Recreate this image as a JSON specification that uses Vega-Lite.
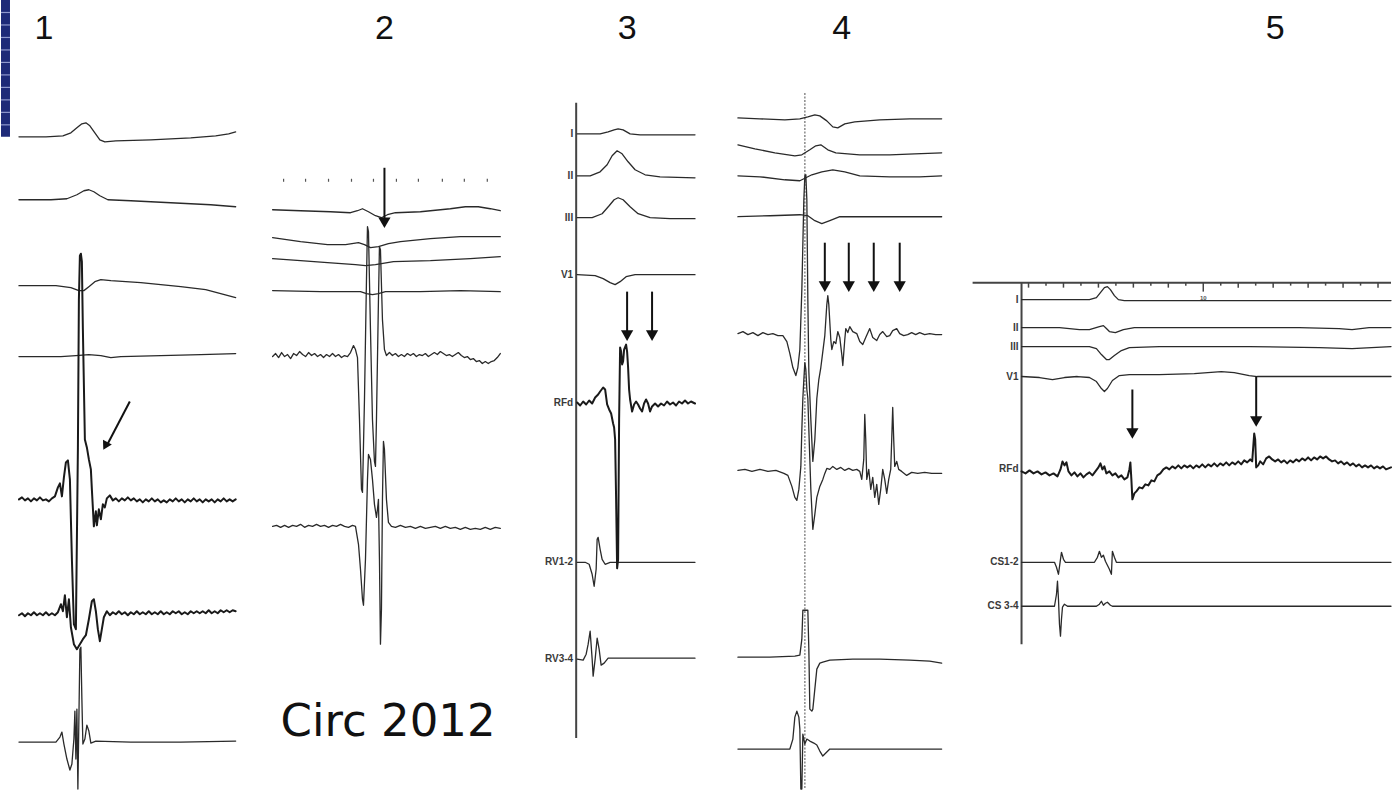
{
"$schema":"https://vega.github.io/schema/vega-lite/v6.json",
"width":1392,"height":790,
"autosize":{"type":"fit","contains":"padding"},
"padding":0,
"background":"white",
"config":{"view":{"stroke":null}},
"datasets":{
"traces":[
{"s":"1a","x":18,"y":137},{"s":"1a","x":45,"y":137},{"s":"1a","x":62,"y":136},{"s":"1a","x":70,"y":133},{"s":"1a","x":76,"y":128},{"s":"1a","x":81,"y":124},{"s":"1a","x":85,"y":123},{"s":"1a","x":89,"y":126},{"s":"1a","x":94,"y":133},{"s":"1a","x":99,"y":140},{"s":"1a","x":104,"y":142},{"s":"1a","x":115,"y":141},{"s":"1a","x":150,"y":140},{"s":"1a","x":190,"y":138},{"s":"1a","x":215,"y":136},{"s":"1a","x":228,"y":134},{"s":"1a","x":235,"y":132},
{"s":"1b","x":18,"y":200},{"s":"1b","x":50,"y":200},{"s":"1b","x":66,"y":199},{"s":"1b","x":76,"y":195},{"s":"1b","x":83,"y":191},{"s":"1b","x":88,"y":190},{"s":"1b","x":93,"y":192},{"s":"1b","x":99,"y":196},{"s":"1b","x":107,"y":200},{"s":"1b","x":130,"y":201},{"s":"1b","x":170,"y":203},{"s":"1b","x":210,"y":205},{"s":"1b","x":235,"y":207},
{"s":"1c","x":18,"y":286},{"s":"1c","x":55,"y":286},{"s":"1c","x":70,"y":288},{"s":"1c","x":78,"y":291},{"s":"1c","x":83,"y":291},{"s":"1c","x":88,"y":287},{"s":"1c","x":94,"y":282},{"s":"1c","x":100,"y":280},{"s":"1c","x":110,"y":281},{"s":"1c","x":140,"y":283},{"s":"1c","x":180,"y":287},{"s":"1c","x":205,"y":290},{"s":"1c","x":220,"y":294},{"s":"1c","x":235,"y":298},
{"s":"1d","x":18,"y":357},{"s":"1d","x":60,"y":357},{"s":"1d","x":75,"y":356},{"s":"1d","x":88,"y":355},{"s":"1d","x":100,"y":356},{"s":"1d","x":110,"y":358},{"s":"1d","x":120,"y":357},{"s":"1d","x":160,"y":356},{"s":"1d","x":200,"y":355},{"s":"1d","x":235,"y":354},
{"s":"1e","x":18,"y":500},{"s":"1e","x":21,"y":498},{"s":"1e","x":24,"y":501},{"s":"1e","x":27,"y":499},{"s":"1e","x":30,"y":502},{"s":"1e","x":33,"y":499},{"s":"1e","x":36,"y":501},{"s":"1e","x":39,"y":498},{"s":"1e","x":42,"y":501},{"s":"1e","x":45,"y":500},{"s":"1e","x":48,"y":502},{"s":"1e","x":51,"y":499},{"s":"1e","x":54,"y":497},{"s":"1e","x":57,"y":488},{"s":"1e","x":59,"y":484},{"s":"1e","x":61,"y":497},{"s":"1e","x":63,"y":478},{"s":"1e","x":65,"y":463},{"s":"1e","x":67,"y":461},{"s":"1e","x":69,"y":480},{"s":"1e","x":71,"y":560},{"s":"1e","x":73,"y":625},{"s":"1e","x":75,"y":630},{"s":"1e","x":77,"y":450},{"s":"1e","x":78,"y":300},{"s":"1e","x":79,"y":256},{"s":"1e","x":80,"y":254},{"s":"1e","x":81,"y":262},{"s":"1e","x":82,"y":330},{"s":"1e","x":84,"y":440},{"s":"1e","x":86,"y":448},{"s":"1e","x":88,"y":460},{"s":"1e","x":90,"y":470},{"s":"1e","x":91,"y":490},{"s":"1e","x":93,"y":527},{"s":"1e","x":95,"y":512},{"s":"1e","x":96,"y":526},{"s":"1e","x":98,"y":510},{"s":"1e","x":100,"y":520},{"s":"1e","x":102,"y":505},{"s":"1e","x":104,"y":508},{"s":"1e","x":106,"y":499},{"s":"1e","x":109,"y":496},{"s":"1e","x":112,"y":501},{"s":"1e","x":115,"y":499},{"s":"1e","x":118,"y":502},{"s":"1e","x":121,"y":499},{"s":"1e","x":124,"y":501},{"s":"1e","x":127,"y":498},{"s":"1e","x":130,"y":501},{"s":"1e","x":133,"y":499},{"s":"1e","x":136,"y":502},{"s":"1e","x":139,"y":500},{"s":"1e","x":142,"y":503},{"s":"1e","x":145,"y":500},{"s":"1e","x":148,"y":502},{"s":"1e","x":151,"y":499},{"s":"1e","x":154,"y":502},{"s":"1e","x":157,"y":500},{"s":"1e","x":160,"y":503},{"s":"1e","x":163,"y":501},{"s":"1e","x":166,"y":503},{"s":"1e","x":169,"y":500},{"s":"1e","x":172,"y":502},{"s":"1e","x":175,"y":499},{"s":"1e","x":178,"y":502},{"s":"1e","x":181,"y":500},{"s":"1e","x":184,"y":503},{"s":"1e","x":187,"y":500},{"s":"1e","x":190,"y":502},{"s":"1e","x":193,"y":499},{"s":"1e","x":196,"y":502},{"s":"1e","x":199,"y":500},{"s":"1e","x":202,"y":503},{"s":"1e","x":205,"y":500},{"s":"1e","x":208,"y":502},{"s":"1e","x":211,"y":500},{"s":"1e","x":214,"y":503},{"s":"1e","x":217,"y":500},{"s":"1e","x":220,"y":502},{"s":"1e","x":223,"y":499},{"s":"1e","x":226,"y":502},{"s":"1e","x":229,"y":500},{"s":"1e","x":232,"y":502},{"s":"1e","x":235,"y":500},
{"s":"1f","x":18,"y":616},{"s":"1f","x":21,"y":614},{"s":"1f","x":24,"y":617},{"s":"1f","x":27,"y":614},{"s":"1f","x":30,"y":616},{"s":"1f","x":33,"y":613},{"s":"1f","x":36,"y":616},{"s":"1f","x":39,"y":614},{"s":"1f","x":42,"y":616},{"s":"1f","x":45,"y":613},{"s":"1f","x":48,"y":616},{"s":"1f","x":51,"y":614},{"s":"1f","x":54,"y":616},{"s":"1f","x":57,"y":613},{"s":"1f","x":60,"y":605},{"s":"1f","x":62,"y":612},{"s":"1f","x":64,"y":596},{"s":"1f","x":66,"y":618},{"s":"1f","x":68,"y":600},{"s":"1f","x":70,"y":628},{"s":"1f","x":73,"y":645},{"s":"1f","x":76,"y":650},{"s":"1f","x":79,"y":645},{"s":"1f","x":82,"y":640},{"s":"1f","x":85,"y":636},{"s":"1f","x":88,"y":620},{"s":"1f","x":91,"y":602},{"s":"1f","x":93,"y":600},{"s":"1f","x":95,"y":612},{"s":"1f","x":97,"y":630},{"s":"1f","x":99,"y":642},{"s":"1f","x":101,"y":630},{"s":"1f","x":103,"y":618},{"s":"1f","x":106,"y":612},{"s":"1f","x":109,"y":616},{"s":"1f","x":112,"y":613},{"s":"1f","x":115,"y":615},{"s":"1f","x":118,"y":612},{"s":"1f","x":121,"y":615},{"s":"1f","x":124,"y":613},{"s":"1f","x":127,"y":616},{"s":"1f","x":130,"y":613},{"s":"1f","x":133,"y":615},{"s":"1f","x":136,"y":612},{"s":"1f","x":139,"y":615},{"s":"1f","x":142,"y":613},{"s":"1f","x":145,"y":615},{"s":"1f","x":148,"y":612},{"s":"1f","x":151,"y":615},{"s":"1f","x":154,"y":613},{"s":"1f","x":157,"y":615},{"s":"1f","x":160,"y":612},{"s":"1f","x":163,"y":615},{"s":"1f","x":166,"y":613},{"s":"1f","x":169,"y":615},{"s":"1f","x":172,"y":612},{"s":"1f","x":175,"y":614},{"s":"1f","x":178,"y":612},{"s":"1f","x":181,"y":615},{"s":"1f","x":184,"y":613},{"s":"1f","x":187,"y":615},{"s":"1f","x":190,"y":612},{"s":"1f","x":193,"y":614},{"s":"1f","x":196,"y":612},{"s":"1f","x":199,"y":614},{"s":"1f","x":202,"y":612},{"s":"1f","x":205,"y":614},{"s":"1f","x":208,"y":611},{"s":"1f","x":211,"y":614},{"s":"1f","x":214,"y":612},{"s":"1f","x":217,"y":614},{"s":"1f","x":220,"y":611},{"s":"1f","x":223,"y":613},{"s":"1f","x":226,"y":611},{"s":"1f","x":229,"y":613},{"s":"1f","x":232,"y":611},{"s":"1f","x":235,"y":612},
{"s":"1g","x":18,"y":743},{"s":"1g","x":55,"y":743},{"s":"1g","x":59,"y":738},{"s":"1g","x":61,"y":733},{"s":"1g","x":63,"y":745},{"s":"1g","x":66,"y":760},{"s":"1g","x":69,"y":771},{"s":"1g","x":71,"y":765},{"s":"1g","x":73,"y":740},{"s":"1g","x":74,"y":712},{"s":"1g","x":75,"y":760},{"s":"1g","x":76,"y":710},{"s":"1g","x":77,"y":790},{"s":"1g","x":78,"y":720},{"s":"1g","x":79,"y":650},{"s":"1g","x":80,"y":648},{"s":"1g","x":81,"y":700},{"s":"1g","x":82,"y":745},{"s":"1g","x":84,"y":740},{"s":"1g","x":86,"y":726},{"s":"1g","x":88,"y":732},{"s":"1g","x":90,"y":744},{"s":"1g","x":95,"y":742},{"s":"1g","x":130,"y":743},{"s":"1g","x":180,"y":743},{"s":"1g","x":235,"y":742},
{"s":"2a","x":272,"y":210},{"s":"2a","x":300,"y":211},{"s":"2a","x":330,"y":212},{"s":"2a","x":350,"y":213},{"s":"2a","x":357,"y":211},{"s":"2a","x":362,"y":209},{"s":"2a","x":368,"y":212},{"s":"2a","x":375,"y":216},{"s":"2a","x":381,"y":218},{"s":"2a","x":387,"y":215},{"s":"2a","x":395,"y":213},{"s":"2a","x":420,"y":212},{"s":"2a","x":450,"y":209},{"s":"2a","x":465,"y":207},{"s":"2a","x":478,"y":207},{"s":"2a","x":490,"y":209},{"s":"2a","x":500,"y":211},
{"s":"2b","x":272,"y":238},{"s":"2b","x":300,"y":242},{"s":"2b","x":327,"y":245},{"s":"2b","x":345,"y":245},{"s":"2b","x":358,"y":243},{"s":"2b","x":364,"y":245},{"s":"2b","x":370,"y":248},{"s":"2b","x":378,"y":247},{"s":"2b","x":388,"y":244},{"s":"2b","x":400,"y":242},{"s":"2b","x":430,"y":239},{"s":"2b","x":460,"y":237},{"s":"2b","x":500,"y":237},
{"s":"2c","x":272,"y":259},{"s":"2c","x":300,"y":261},{"s":"2c","x":327,"y":263},{"s":"2c","x":355,"y":265},{"s":"2c","x":365,"y":266},{"s":"2c","x":375,"y":265},{"s":"2c","x":393,"y":262},{"s":"2c","x":430,"y":261},{"s":"2c","x":470,"y":259},{"s":"2c","x":500,"y":257},
{"s":"2d","x":272,"y":291},{"s":"2d","x":320,"y":292},{"s":"2d","x":360,"y":292},{"s":"2d","x":366,"y":294},{"s":"2d","x":372,"y":295},{"s":"2d","x":378,"y":294},{"s":"2d","x":385,"y":292},{"s":"2d","x":420,"y":292},{"s":"2d","x":460,"y":291},{"s":"2d","x":500,"y":292},
{"s":"2e","x":272,"y":357},{"s":"2e","x":275,"y":354},{"s":"2e","x":278,"y":358},{"s":"2e","x":281,"y":353},{"s":"2e","x":284,"y":357},{"s":"2e","x":287,"y":355},{"s":"2e","x":290,"y":359},{"s":"2e","x":293,"y":354},{"s":"2e","x":296,"y":356},{"s":"2e","x":299,"y":352},{"s":"2e","x":302,"y":355},{"s":"2e","x":305,"y":357},{"s":"2e","x":308,"y":353},{"s":"2e","x":311,"y":356},{"s":"2e","x":314,"y":354},{"s":"2e","x":317,"y":357},{"s":"2e","x":320,"y":355},{"s":"2e","x":323,"y":358},{"s":"2e","x":326,"y":355},{"s":"2e","x":329,"y":357},{"s":"2e","x":332,"y":354},{"s":"2e","x":335,"y":357},{"s":"2e","x":338,"y":355},{"s":"2e","x":341,"y":358},{"s":"2e","x":344,"y":356},{"s":"2e","x":347,"y":357},{"s":"2e","x":350,"y":353},{"s":"2e","x":353,"y":346},{"s":"2e","x":355,"y":350},{"s":"2e","x":357,"y":358},{"s":"2e","x":359,"y":420},{"s":"2e","x":361,"y":490},{"s":"2e","x":362,"y":493},{"s":"2e","x":364,"y":400},{"s":"2e","x":366,"y":280},{"s":"2e","x":367,"y":227},{"s":"2e","x":368,"y":232},{"s":"2e","x":370,"y":330},{"s":"2e","x":372,"y":420},{"s":"2e","x":374,"y":462},{"s":"2e","x":375,"y":467},{"s":"2e","x":376,"y":420},{"s":"2e","x":378,"y":300},{"s":"2e","x":379,"y":247},{"s":"2e","x":380,"y":250},{"s":"2e","x":382,"y":320},{"s":"2e","x":384,"y":350},{"s":"2e","x":386,"y":356},{"s":"2e","x":389,"y":353},{"s":"2e","x":392,"y":356},{"s":"2e","x":395,"y":354},{"s":"2e","x":398,"y":357},{"s":"2e","x":401,"y":355},{"s":"2e","x":404,"y":357},{"s":"2e","x":407,"y":354},{"s":"2e","x":410,"y":356},{"s":"2e","x":413,"y":354},{"s":"2e","x":416,"y":357},{"s":"2e","x":419,"y":355},{"s":"2e","x":422,"y":356},{"s":"2e","x":425,"y":354},{"s":"2e","x":428,"y":357},{"s":"2e","x":431,"y":355},{"s":"2e","x":434,"y":353},{"s":"2e","x":437,"y":355},{"s":"2e","x":440,"y":352},{"s":"2e","x":443,"y":354},{"s":"2e","x":446,"y":356},{"s":"2e","x":449,"y":355},{"s":"2e","x":452,"y":357},{"s":"2e","x":455,"y":355},{"s":"2e","x":458,"y":353},{"s":"2e","x":461,"y":356},{"s":"2e","x":464,"y":358},{"s":"2e","x":467,"y":357},{"s":"2e","x":470,"y":360},{"s":"2e","x":473,"y":359},{"s":"2e","x":476,"y":362},{"s":"2e","x":479,"y":361},{"s":"2e","x":482,"y":364},{"s":"2e","x":485,"y":362},{"s":"2e","x":488,"y":364},{"s":"2e","x":491,"y":362},{"s":"2e","x":494,"y":361},{"s":"2e","x":497,"y":358},{"s":"2e","x":500,"y":354},
{"s":"2f","x":272,"y":527},{"s":"2f","x":276,"y":526},{"s":"2f","x":280,"y":528},{"s":"2f","x":284,"y":526},{"s":"2f","x":288,"y":528},{"s":"2f","x":292,"y":526},{"s":"2f","x":296,"y":527},{"s":"2f","x":300,"y":525},{"s":"2f","x":304,"y":528},{"s":"2f","x":308,"y":526},{"s":"2f","x":312,"y":527},{"s":"2f","x":316,"y":525},{"s":"2f","x":320,"y":527},{"s":"2f","x":324,"y":526},{"s":"2f","x":328,"y":528},{"s":"2f","x":332,"y":526},{"s":"2f","x":336,"y":527},{"s":"2f","x":340,"y":525},{"s":"2f","x":344,"y":527},{"s":"2f","x":348,"y":528},{"s":"2f","x":352,"y":526},{"s":"2f","x":355,"y":527},{"s":"2f","x":358,"y":545},{"s":"2f","x":360,"y":570},{"s":"2f","x":362,"y":600},{"s":"2f","x":363,"y":606},{"s":"2f","x":365,"y":560},{"s":"2f","x":367,"y":480},{"s":"2f","x":368,"y":455},{"s":"2f","x":370,"y":460},{"s":"2f","x":372,"y":480},{"s":"2f","x":374,"y":505},{"s":"2f","x":376,"y":518},{"s":"2f","x":377,"y":510},{"s":"2f","x":378,"y":500},{"s":"2f","x":379,"y":560},{"s":"2f","x":380,"y":645},{"s":"2f","x":381,"y":610},{"s":"2f","x":382,"y":500},{"s":"2f","x":383,"y":442},{"s":"2f","x":384,"y":450},{"s":"2f","x":386,"y":500},{"s":"2f","x":388,"y":523},{"s":"2f","x":391,"y":527},{"s":"2f","x":395,"y":528},{"s":"2f","x":400,"y":526},{"s":"2f","x":405,"y":528},{"s":"2f","x":410,"y":527},{"s":"2f","x":415,"y":529},{"s":"2f","x":420,"y":527},{"s":"2f","x":425,"y":529},{"s":"2f","x":430,"y":528},{"s":"2f","x":435,"y":527},{"s":"2f","x":440,"y":529},{"s":"2f","x":445,"y":527},{"s":"2f","x":450,"y":529},{"s":"2f","x":455,"y":528},{"s":"2f","x":460,"y":530},{"s":"2f","x":465,"y":528},{"s":"2f","x":470,"y":530},{"s":"2f","x":475,"y":529},{"s":"2f","x":480,"y":530},{"s":"2f","x":485,"y":528},{"s":"2f","x":490,"y":530},{"s":"2f","x":495,"y":528},{"s":"2f","x":500,"y":529},
{"s":"3I","x":577,"y":134},{"s":"3I","x":600,"y":134},{"s":"3I","x":608,"y":132},{"s":"3I","x":614,"y":130},{"s":"3I","x":618,"y":129},{"s":"3I","x":623,"y":130},{"s":"3I","x":630,"y":134},{"s":"3I","x":640,"y":135},{"s":"3I","x":660,"y":135},{"s":"3I","x":695,"y":135},
{"s":"3II","x":577,"y":176},{"s":"3II","x":590,"y":176},{"s":"3II","x":600,"y":172},{"s":"3II","x":607,"y":165},{"s":"3II","x":612,"y":156},{"s":"3II","x":617,"y":151},{"s":"3II","x":622,"y":154},{"s":"3II","x":628,"y":162},{"s":"3II","x":635,"y":170},{"s":"3II","x":645,"y":175},{"s":"3II","x":660,"y":177},{"s":"3II","x":695,"y":178},
{"s":"3III","x":577,"y":218},{"s":"3III","x":592,"y":218},{"s":"3III","x":602,"y":214},{"s":"3III","x":609,"y":206},{"s":"3III","x":614,"y":200},{"s":"3III","x":618,"y":198},{"s":"3III","x":623,"y":200},{"s":"3III","x":630,"y":207},{"s":"3III","x":638,"y":214},{"s":"3III","x":650,"y":218},{"s":"3III","x":670,"y":219},{"s":"3III","x":695,"y":219},
{"s":"3V1","x":577,"y":275},{"s":"3V1","x":595,"y":276},{"s":"3V1","x":603,"y":279},{"s":"3V1","x":610,"y":283},{"s":"3V1","x":615,"y":285},{"s":"3V1","x":620,"y":282},{"s":"3V1","x":626,"y":277},{"s":"3V1","x":635,"y":275},{"s":"3V1","x":695,"y":275},
{"s":"3R","x":577,"y":403},{"s":"3R","x":580,"y":406},{"s":"3R","x":583,"y":402},{"s":"3R","x":586,"y":405},{"s":"3R","x":589,"y":401},{"s":"3R","x":592,"y":404},{"s":"3R","x":595,"y":398},{"s":"3R","x":598,"y":395},{"s":"3R","x":600,"y":392},{"s":"3R","x":603,"y":388},{"s":"3R","x":605,"y":390},{"s":"3R","x":607,"y":405},{"s":"3R","x":609,"y":410},{"s":"3R","x":611,"y":414},{"s":"3R","x":613,"y":424},{"s":"3R","x":614,"y":428},{"s":"3R","x":615,"y":440},{"s":"3R","x":616,"y":500},{"s":"3R","x":617,"y":569},{"s":"3R","x":618,"y":560},{"s":"3R","x":619,"y":420},{"s":"3R","x":620,"y":348},{"s":"3R","x":621,"y":352},{"s":"3R","x":622,"y":365},{"s":"3R","x":623,"y":362},{"s":"3R","x":624,"y":350},{"s":"3R","x":626,"y":345},{"s":"3R","x":627,"y":352},{"s":"3R","x":628,"y":368},{"s":"3R","x":629,"y":390},{"s":"3R","x":630,"y":400},{"s":"3R","x":632,"y":412},{"s":"3R","x":634,"y":405},{"s":"3R","x":636,"y":402},{"s":"3R","x":638,"y":405},{"s":"3R","x":640,"y":409},{"s":"3R","x":642,"y":412},{"s":"3R","x":644,"y":404},{"s":"3R","x":646,"y":400},{"s":"3R","x":648,"y":404},{"s":"3R","x":650,"y":412},{"s":"3R","x":652,"y":407},{"s":"3R","x":655,"y":404},{"s":"3R","x":658,"y":407},{"s":"3R","x":661,"y":404},{"s":"3R","x":664,"y":406},{"s":"3R","x":667,"y":402},{"s":"3R","x":670,"y":405},{"s":"3R","x":673,"y":403},{"s":"3R","x":676,"y":406},{"s":"3R","x":679,"y":402},{"s":"3R","x":682,"y":404},{"s":"3R","x":685,"y":401},{"s":"3R","x":688,"y":404},{"s":"3R","x":691,"y":402},{"s":"3R","x":695,"y":404},
{"s":"3RV12","x":577,"y":563},{"s":"3RV12","x":585,"y":563},{"s":"3RV12","x":589,"y":565},{"s":"3RV12","x":592,"y":575},{"s":"3RV12","x":594,"y":587},{"s":"3RV12","x":596,"y":570},{"s":"3RV12","x":597,"y":540},{"s":"3RV12","x":598,"y":538},{"s":"3RV12","x":600,"y":550},{"s":"3RV12","x":602,"y":560},{"s":"3RV12","x":605,"y":565},{"s":"3RV12","x":610,"y":563},{"s":"3RV12","x":695,"y":563},
{"s":"3RV34","x":577,"y":660},{"s":"3RV34","x":583,"y":661},{"s":"3RV34","x":586,"y":655},{"s":"3RV34","x":588,"y":645},{"s":"3RV34","x":590,"y":632},{"s":"3RV34","x":592,"y":660},{"s":"3RV34","x":593,"y":677},{"s":"3RV34","x":595,"y":660},{"s":"3RV34","x":597,"y":639},{"s":"3RV34","x":599,"y":650},{"s":"3RV34","x":601,"y":666},{"s":"3RV34","x":604,"y":664},{"s":"3RV34","x":608,"y":659},{"s":"3RV34","x":620,"y":659},{"s":"3RV34","x":695,"y":659},
{"s":"4a","x":738,"y":118},{"s":"4a","x":760,"y":119},{"s":"4a","x":785,"y":120},{"s":"4a","x":800,"y":119},{"s":"4a","x":808,"y":117},{"s":"4a","x":815,"y":115},{"s":"4a","x":820,"y":116},{"s":"4a","x":827,"y":121},{"s":"4a","x":833,"y":127},{"s":"4a","x":838,"y":128},{"s":"4a","x":845,"y":124},{"s":"4a","x":855,"y":122},{"s":"4a","x":880,"y":120},{"s":"4a","x":910,"y":119},{"s":"4a","x":942,"y":119},
{"s":"4b","x":738,"y":145},{"s":"4b","x":755,"y":149},{"s":"4b","x":775,"y":153},{"s":"4b","x":795,"y":156},{"s":"4b","x":802,"y":155},{"s":"4b","x":810,"y":150},{"s":"4b","x":816,"y":146},{"s":"4b","x":821,"y":145},{"s":"4b","x":828,"y":150},{"s":"4b","x":836,"y":153},{"s":"4b","x":860,"y":155},{"s":"4b","x":890,"y":155},{"s":"4b","x":915,"y":154},{"s":"4b","x":942,"y":153},
{"s":"4c","x":738,"y":176},{"s":"4c","x":760,"y":177},{"s":"4c","x":785,"y":180},{"s":"4c","x":800,"y":181},{"s":"4c","x":806,"y":178},{"s":"4c","x":812,"y":175},{"s":"4c","x":822,"y":172},{"s":"4c","x":833,"y":170},{"s":"4c","x":845,"y":172},{"s":"4c","x":860,"y":176},{"s":"4c","x":890,"y":177},{"s":"4c","x":920,"y":177},{"s":"4c","x":942,"y":176},
{"s":"4d","x":738,"y":217},{"s":"4d","x":770,"y":216},{"s":"4d","x":800,"y":215},{"s":"4d","x":808,"y":216},{"s":"4d","x":815,"y":221},{"s":"4d","x":822,"y":224},{"s":"4d","x":830,"y":221},{"s":"4d","x":840,"y":217},{"s":"4d","x":870,"y":217},{"s":"4d","x":942,"y":217},
{"s":"4e","x":738,"y":334},{"s":"4e","x":743,"y":332},{"s":"4e","x":748,"y":335},{"s":"4e","x":753,"y":333},{"s":"4e","x":758,"y":336},{"s":"4e","x":763,"y":333},{"s":"4e","x":768,"y":335},{"s":"4e","x":773,"y":334},{"s":"4e","x":778,"y":336},{"s":"4e","x":783,"y":336},{"s":"4e","x":787,"y":342},{"s":"4e","x":790,"y":354},{"s":"4e","x":793,"y":368},{"s":"4e","x":796,"y":376},{"s":"4e","x":798,"y":368},{"s":"4e","x":800,"y":350},{"s":"4e","x":802,"y":290},{"s":"4e","x":804,"y":200},{"s":"4e","x":805,"y":176},{"s":"4e","x":806,"y":175},{"s":"4e","x":807,"y":200},{"s":"4e","x":808,"y":300},{"s":"4e","x":809,"y":372},{"s":"4e","x":811,"y":420},{"s":"4e","x":813,"y":462},{"s":"4e","x":815,"y":440},{"s":"4e","x":817,"y":399},{"s":"4e","x":819,"y":380},{"s":"4e","x":821,"y":368},{"s":"4e","x":823,"y":352},{"s":"4e","x":825,"y":336},{"s":"4e","x":827,"y":305},{"s":"4e","x":828,"y":296},{"s":"4e","x":829,"y":305},{"s":"4e","x":831,"y":340},{"s":"4e","x":832,"y":350},{"s":"4e","x":834,"y":342},{"s":"4e","x":836,"y":344},{"s":"4e","x":838,"y":332},{"s":"4e","x":840,"y":338},{"s":"4e","x":842,"y":355},{"s":"4e","x":843,"y":366},{"s":"4e","x":845,"y":340},{"s":"4e","x":846,"y":329},{"s":"4e","x":848,"y":333},{"s":"4e","x":850,"y":327},{"s":"4e","x":853,"y":332},{"s":"4e","x":857,"y":334},{"s":"4e","x":860,"y":342},{"s":"4e","x":863,"y":345},{"s":"4e","x":866,"y":338},{"s":"4e","x":870,"y":329},{"s":"4e","x":873,"y":338},{"s":"4e","x":877,"y":341},{"s":"4e","x":880,"y":335},{"s":"4e","x":883,"y":332},{"s":"4e","x":887,"y":337},{"s":"4e","x":890,"y":336},{"s":"4e","x":893,"y":331},{"s":"4e","x":897,"y":329},{"s":"4e","x":900,"y":334},{"s":"4e","x":904,"y":336},{"s":"4e","x":908,"y":335},{"s":"4e","x":912,"y":333},{"s":"4e","x":916,"y":335},{"s":"4e","x":920,"y":333},{"s":"4e","x":925,"y":335},{"s":"4e","x":930,"y":334},{"s":"4e","x":936,"y":335},{"s":"4e","x":942,"y":335},
{"s":"4f","x":738,"y":471},{"s":"4f","x":745,"y":470},{"s":"4f","x":752,"y":472},{"s":"4f","x":760,"y":470},{"s":"4f","x":768,"y":472},{"s":"4f","x":776,"y":471},{"s":"4f","x":784,"y":474},{"s":"4f","x":788,"y":476},{"s":"4f","x":792,"y":487},{"s":"4f","x":795,"y":498},{"s":"4f","x":797,"y":501},{"s":"4f","x":799,"y":490},{"s":"4f","x":801,"y":467},{"s":"4f","x":802,"y":430},{"s":"4f","x":803,"y":399},{"s":"4f","x":804,"y":380},{"s":"4f","x":805,"y":363},{"s":"4f","x":806,"y":370},{"s":"4f","x":807,"y":390},{"s":"4f","x":808,"y":399},{"s":"4f","x":809,"y":430},{"s":"4f","x":811,"y":490},{"s":"4f","x":813,"y":530},{"s":"4f","x":815,"y":515},{"s":"4f","x":817,"y":498},{"s":"4f","x":820,"y":487},{"s":"4f","x":823,"y":480},{"s":"4f","x":825,"y":474},{"s":"4f","x":827,"y":469},{"s":"4f","x":830,"y":470},{"s":"4f","x":833,"y":467},{"s":"4f","x":837,"y":470},{"s":"4f","x":841,"y":468},{"s":"4f","x":845,"y":471},{"s":"4f","x":849,"y":469},{"s":"4f","x":853,"y":471},{"s":"4f","x":857,"y":470},{"s":"4f","x":860,"y":472},{"s":"4f","x":862,"y":480},{"s":"4f","x":864,"y":460},{"s":"4f","x":865,"y":415},{"s":"4f","x":866,"y":440},{"s":"4f","x":867,"y":480},{"s":"4f","x":869,"y":470},{"s":"4f","x":871,"y":490},{"s":"4f","x":873,"y":478},{"s":"4f","x":875,"y":498},{"s":"4f","x":877,"y":485},{"s":"4f","x":879,"y":505},{"s":"4f","x":881,"y":490},{"s":"4f","x":883,"y":470},{"s":"4f","x":885,"y":480},{"s":"4f","x":887,"y":494},{"s":"4f","x":889,"y":480},{"s":"4f","x":891,"y":470},{"s":"4f","x":892,"y":440},{"s":"4f","x":893,"y":408},{"s":"4f","x":894,"y":440},{"s":"4f","x":895,"y":467},{"s":"4f","x":897,"y":462},{"s":"4f","x":899,"y":470},{"s":"4f","x":902,"y":472},{"s":"4f","x":907,"y":476},{"s":"4f","x":912,"y":473},{"s":"4f","x":918,"y":474},{"s":"4f","x":925,"y":473},{"s":"4f","x":932,"y":474},{"s":"4f","x":942,"y":474},
{"s":"4g","x":738,"y":658},{"s":"4g","x":770,"y":658},{"s":"4g","x":795,"y":657},{"s":"4g","x":800,"y":656},{"s":"4g","x":802,"y":640},{"s":"4g","x":803,"y":611},{"s":"4g","x":806,"y":611},{"s":"4g","x":808,"y":611},{"s":"4g","x":809,"y":650},{"s":"4g","x":810,"y":710},{"s":"4g","x":812,"y":712},{"s":"4g","x":813,"y":710},{"s":"4g","x":815,"y":690},{"s":"4g","x":817,"y":670},{"s":"4g","x":820,"y":664},{"s":"4g","x":823,"y":663},{"s":"4g","x":830,"y":661},{"s":"4g","x":853,"y":660},{"s":"4g","x":880,"y":660},{"s":"4g","x":910,"y":661},{"s":"4g","x":930,"y":662},{"s":"4g","x":942,"y":664},
{"s":"4h","x":738,"y":750},{"s":"4h","x":770,"y":750},{"s":"4h","x":790,"y":750},{"s":"4h","x":793,"y":740},{"s":"4h","x":795,"y":718},{"s":"4h","x":797,"y":712},{"s":"4h","x":799,"y":718},{"s":"4h","x":800,"y":730},{"s":"4h","x":801,"y":790},{"s":"4h","x":802,"y":790},{"s":"4h","x":803,"y":735},{"s":"4h","x":805,"y":745},{"s":"4h","x":807,"y":740},{"s":"4h","x":810,"y":742},{"s":"4h","x":814,"y":744},{"s":"4h","x":817,"y":746},{"s":"4h","x":820,"y":752},{"s":"4h","x":823,"y":757},{"s":"4h","x":826,"y":754},{"s":"4h","x":830,"y":750},{"s":"4h","x":860,"y":750},{"s":"4h","x":900,"y":750},{"s":"4h","x":942,"y":750},
{"s":"5I","x":1022,"y":300},{"s":"5I","x":1060,"y":300},{"s":"5I","x":1090,"y":300},{"s":"5I","x":1097,"y":298},{"s":"5I","x":1101,"y":293},{"s":"5I","x":1105,"y":288},{"s":"5I","x":1108,"y":287},{"s":"5I","x":1111,"y":290},{"s":"5I","x":1115,"y":296},{"s":"5I","x":1119,"y":300},{"s":"5I","x":1125,"y":301},{"s":"5I","x":1160,"y":301},{"s":"5I","x":1200,"y":301},{"s":"5I","x":1260,"y":301},{"s":"5I","x":1320,"y":301},{"s":"5I","x":1392,"y":301},
{"s":"5II","x":1022,"y":328},{"s":"5II","x":1040,"y":328},{"s":"5II","x":1060,"y":328},{"s":"5II","x":1080,"y":330},{"s":"5II","x":1090,"y":330},{"s":"5II","x":1100,"y":327},{"s":"5II","x":1104,"y":326},{"s":"5II","x":1107,"y":329},{"s":"5II","x":1110,"y":332},{"s":"5II","x":1116,"y":333},{"s":"5II","x":1124,"y":330},{"s":"5II","x":1135,"y":328},{"s":"5II","x":1200,"y":328},{"s":"5II","x":1300,"y":328},{"s":"5II","x":1340,"y":329},{"s":"5II","x":1353,"y":330},{"s":"5II","x":1370,"y":328},{"s":"5II","x":1392,"y":328},
{"s":"5III","x":1022,"y":347},{"s":"5III","x":1060,"y":347},{"s":"5III","x":1090,"y":347},{"s":"5III","x":1097,"y":349},{"s":"5III","x":1102,"y":355},{"s":"5III","x":1107,"y":360},{"s":"5III","x":1110,"y":360},{"s":"5III","x":1115,"y":356},{"s":"5III","x":1122,"y":351},{"s":"5III","x":1130,"y":348},{"s":"5III","x":1160,"y":347},{"s":"5III","x":1250,"y":347},{"s":"5III","x":1320,"y":348},{"s":"5III","x":1353,"y":349},{"s":"5III","x":1392,"y":347},
{"s":"5V1","x":1022,"y":377},{"s":"5V1","x":1040,"y":378},{"s":"5V1","x":1053,"y":380},{"s":"5V1","x":1065,"y":378},{"s":"5V1","x":1078,"y":377},{"s":"5V1","x":1090,"y":378},{"s":"5V1","x":1097,"y":382},{"s":"5V1","x":1102,"y":389},{"s":"5V1","x":1105,"y":392},{"s":"5V1","x":1108,"y":389},{"s":"5V1","x":1113,"y":381},{"s":"5V1","x":1120,"y":376},{"s":"5V1","x":1130,"y":375},{"s":"5V1","x":1160,"y":375},{"s":"5V1","x":1195,"y":374},{"s":"5V1","x":1222,"y":372},{"s":"5V1","x":1235,"y":373},{"s":"5V1","x":1250,"y":376},{"s":"5V1","x":1258,"y":377},{"s":"5V1","x":1300,"y":377},{"s":"5V1","x":1392,"y":377},
{"s":"5R","x":1022,"y":472},{"s":"5R","x":1026,"y":474},{"s":"5R","x":1030,"y":471},{"s":"5R","x":1034,"y":474},{"s":"5R","x":1038,"y":472},{"s":"5R","x":1042,"y":475},{"s":"5R","x":1046,"y":473},{"s":"5R","x":1050,"y":476},{"s":"5R","x":1054,"y":474},{"s":"5R","x":1058,"y":477},{"s":"5R","x":1061,"y":470},{"s":"5R","x":1063,"y":462},{"s":"5R","x":1065,"y":466},{"s":"5R","x":1067,"y":463},{"s":"5R","x":1069,"y":472},{"s":"5R","x":1072,"y":476},{"s":"5R","x":1075,"y":473},{"s":"5R","x":1078,"y":477},{"s":"5R","x":1081,"y":474},{"s":"5R","x":1084,"y":478},{"s":"5R","x":1087,"y":475},{"s":"5R","x":1090,"y":473},{"s":"5R","x":1093,"y":476},{"s":"5R","x":1096,"y":472},{"s":"5R","x":1099,"y":468},{"s":"5R","x":1101,"y":464},{"s":"5R","x":1103,"y":470},{"s":"5R","x":1105,"y":467},{"s":"5R","x":1107,"y":474},{"s":"5R","x":1110,"y":472},{"s":"5R","x":1113,"y":476},{"s":"5R","x":1116,"y":474},{"s":"5R","x":1119,"y":478},{"s":"5R","x":1122,"y":476},{"s":"5R","x":1125,"y":480},{"s":"5R","x":1128,"y":478},{"s":"5R","x":1130,"y":470},{"s":"5R","x":1131,"y":463},{"s":"5R","x":1132,"y":480},{"s":"5R","x":1133,"y":500},{"s":"5R","x":1135,"y":494},{"s":"5R","x":1137,"y":492},{"s":"5R","x":1140,"y":488},{"s":"5R","x":1143,"y":489},{"s":"5R","x":1146,"y":485},{"s":"5R","x":1149,"y":486},{"s":"5R","x":1152,"y":481},{"s":"5R","x":1155,"y":482},{"s":"5R","x":1158,"y":476},{"s":"5R","x":1161,"y":474},{"s":"5R","x":1164,"y":470},{"s":"5R","x":1167,"y":468},{"s":"5R","x":1170,"y":470},{"s":"5R","x":1173,"y":467},{"s":"5R","x":1176,"y":469},{"s":"5R","x":1179,"y":466},{"s":"5R","x":1182,"y":469},{"s":"5R","x":1185,"y":466},{"s":"5R","x":1188,"y":468},{"s":"5R","x":1191,"y":466},{"s":"5R","x":1194,"y":469},{"s":"5R","x":1197,"y":466},{"s":"5R","x":1200,"y":468},{"s":"5R","x":1203,"y":465},{"s":"5R","x":1206,"y":468},{"s":"5R","x":1209,"y":465},{"s":"5R","x":1212,"y":467},{"s":"5R","x":1215,"y":464},{"s":"5R","x":1218,"y":467},{"s":"5R","x":1221,"y":464},{"s":"5R","x":1224,"y":466},{"s":"5R","x":1227,"y":463},{"s":"5R","x":1230,"y":466},{"s":"5R","x":1233,"y":463},{"s":"5R","x":1236,"y":465},{"s":"5R","x":1239,"y":462},{"s":"5R","x":1242,"y":465},{"s":"5R","x":1245,"y":461},{"s":"5R","x":1248,"y":463},{"s":"5R","x":1251,"y":460},{"s":"5R","x":1253,"y":462},{"s":"5R","x":1255,"y":434},{"s":"5R","x":1256,"y":440},{"s":"5R","x":1257,"y":468},{"s":"5R","x":1259,"y":466},{"s":"5R","x":1261,"y":462},{"s":"5R","x":1264,"y":465},{"s":"5R","x":1267,"y":459},{"s":"5R","x":1270,"y":457},{"s":"5R","x":1273,"y":460},{"s":"5R","x":1276,"y":462},{"s":"5R","x":1279,"y":460},{"s":"5R","x":1282,"y":463},{"s":"5R","x":1285,"y":461},{"s":"5R","x":1288,"y":464},{"s":"5R","x":1291,"y":461},{"s":"5R","x":1294,"y":463},{"s":"5R","x":1297,"y":460},{"s":"5R","x":1300,"y":462},{"s":"5R","x":1303,"y":459},{"s":"5R","x":1306,"y":461},{"s":"5R","x":1309,"y":458},{"s":"5R","x":1312,"y":461},{"s":"5R","x":1315,"y":458},{"s":"5R","x":1318,"y":460},{"s":"5R","x":1321,"y":457},{"s":"5R","x":1324,"y":459},{"s":"5R","x":1327,"y":457},{"s":"5R","x":1330,"y":460},{"s":"5R","x":1333,"y":462},{"s":"5R","x":1336,"y":461},{"s":"5R","x":1339,"y":464},{"s":"5R","x":1342,"y":462},{"s":"5R","x":1345,"y":465},{"s":"5R","x":1348,"y":463},{"s":"5R","x":1351,"y":466},{"s":"5R","x":1354,"y":464},{"s":"5R","x":1357,"y":467},{"s":"5R","x":1360,"y":465},{"s":"5R","x":1363,"y":468},{"s":"5R","x":1366,"y":466},{"s":"5R","x":1369,"y":468},{"s":"5R","x":1372,"y":466},{"s":"5R","x":1375,"y":469},{"s":"5R","x":1378,"y":467},{"s":"5R","x":1381,"y":469},{"s":"5R","x":1384,"y":467},{"s":"5R","x":1387,"y":470},{"s":"5R","x":1392,"y":468},
{"s":"5CS12","x":1022,"y":563},{"s":"5CS12","x":1050,"y":563},{"s":"5CS12","x":1055,"y":563},{"s":"5CS12","x":1057,"y":568},{"s":"5CS12","x":1059,"y":575},{"s":"5CS12","x":1061,"y":560},{"s":"5CS12","x":1062,"y":553},{"s":"5CS12","x":1064,"y":560},{"s":"5CS12","x":1066,"y":563},{"s":"5CS12","x":1095,"y":563},{"s":"5CS12","x":1098,"y":558},{"s":"5CS12","x":1100,"y":552},{"s":"5CS12","x":1102,"y":558},{"s":"5CS12","x":1104,"y":556},{"s":"5CS12","x":1106,"y":562},{"s":"5CS12","x":1108,"y":566},{"s":"5CS12","x":1110,"y":570},{"s":"5CS12","x":1112,"y":575},{"s":"5CS12","x":1113,"y":552},{"s":"5CS12","x":1115,"y":558},{"s":"5CS12","x":1117,"y":563},{"s":"5CS12","x":1140,"y":563},{"s":"5CS12","x":1392,"y":563},
{"s":"5CS34","x":1022,"y":607},{"s":"5CS34","x":1050,"y":607},{"s":"5CS34","x":1055,"y":607},{"s":"5CS34","x":1057,"y":595},{"s":"5CS34","x":1058,"y":582},{"s":"5CS34","x":1059,"y":600},{"s":"5CS34","x":1060,"y":625},{"s":"5CS34","x":1061,"y":637},{"s":"5CS34","x":1062,"y":620},{"s":"5CS34","x":1063,"y":608},{"s":"5CS34","x":1065,"y":605},{"s":"5CS34","x":1068,"y":607},{"s":"5CS34","x":1097,"y":607},{"s":"5CS34","x":1100,"y":605},{"s":"5CS34","x":1102,"y":602},{"s":"5CS34","x":1104,"y":606},{"s":"5CS34","x":1106,"y":604},{"s":"5CS34","x":1108,"y":603},{"s":"5CS34","x":1111,"y":606},{"s":"5CS34","x":1113,"y":607},{"s":"5CS34","x":1392,"y":607}
],
"guides":[
{"g":"axis","x":576,"x2":576,"y":103,"y2":739},
{"g":"axis","x":1022,"x2":1022,"y":283,"y2":645},
{"g":"axis","x":973,"x2":1392,"y":283,"y2":283}
],
"marker":[{"x":805,"y":93,"y2":790}],
"shafts":[
{"x":129,"y":402,"x2":107,"y2":444},
{"x":384,"y":168,"x2":384,"y2":220},
{"x":627,"y":292,"x2":627,"y2":333},
{"x":652,"y":292,"x2":652,"y2":333},
{"x":825,"y":243,"x2":825,"y2":284},
{"x":849,"y":243,"x2":849,"y2":284},
{"x":874,"y":243,"x2":874,"y2":284},
{"x":900,"y":243,"x2":900,"y2":284},
{"x":1133,"y":390,"x2":1133,"y2":430},
{"x":1257,"y":377,"x2":1257,"y2":418}
],
"heads":[
{"x":104.5,"y":446.5,"a":28,"k":"small"},
{"x":384,"y":223,"a":0,"k":"big"},
{"x":627,"y":336,"a":0,"k":"big"},
{"x":652,"y":336,"a":0,"k":"big"},
{"x":825,"y":287,"a":0,"k":"big"},
{"x":849,"y":287,"a":0,"k":"big"},
{"x":874,"y":287,"a":0,"k":"big"},
{"x":900,"y":287,"a":0,"k":"big"},
{"x":1133,"y":434,"a":0,"k":"big"},
{"x":1257,"y":422,"a":0,"k":"big"}
],
"ticks2":[{"x":283},{"x":305},{"x":328},{"x":351},{"x":373},{"x":396},{"x":418},{"x":442},{"x":464},{"x":487}],
"ticks5":[
{"x":1029,"k":"long"},{"x":1046.5,"k":"short"},{"x":1064,"k":"long"},{"x":1081.5,"k":"short"},{"x":1099,"k":"long"},{"x":1116.5,"k":"short"},{"x":1134,"k":"long"},{"x":1151.5,"k":"short"},{"x":1169,"k":"long"},{"x":1186.5,"k":"short"},{"x":1204,"k":"major"},{"x":1221.5,"k":"short"},{"x":1239,"k":"long"},{"x":1256.5,"k":"short"},{"x":1274,"k":"long"},{"x":1291.5,"k":"short"},{"x":1309,"k":"long"},{"x":1326.5,"k":"short"},{"x":1344,"k":"long"},{"x":1361.5,"k":"short"},{"x":1379,"k":"long"}
],
"nums":[{"t":"1","x":43,"y":39},{"t":"2","x":384,"y":39},{"t":"3","x":627,"y":39},{"t":"4","x":842,"y":39},{"t":"5","x":1276,"y":39}],
"leads":[
{"t":"I","x":573,"y":134},{"t":"II","x":573,"y":176},{"t":"III","x":573,"y":218},{"t":"V1","x":573,"y":275},{"t":"RFd","x":573,"y":404},{"t":"RV1-2","x":573,"y":563},{"t":"RV3-4","x":573,"y":660},
{"t":"I","x":1019,"y":300},{"t":"II","x":1019,"y":328},{"t":"III","x":1019,"y":347},{"t":"V1","x":1019,"y":377},{"t":"RFd","x":1019,"y":470},{"t":"CS1-2","x":1019,"y":563},{"t":"CS 3-4","x":1019,"y":607}
],
"notes":[{"t":"Circ 2012","x":280,"y":737}],
"scale10":[{"t":"10","x":1204,"y":298}],
"bar":[{"x":0,"x2":9,"y":0,"y2":137}],
"stripes":[{"y":12.5},{"y":25},{"y":37.5},{"y":50},{"y":62.5},{"y":75},{"y":87.5},{"y":100},{"y":112.5},{"y":125}]
},
"layer":[
{"data":{"name":"bar"},"mark":{"type":"rect","color":"#1e2a78"},
 "encoding":{"x":{"field":"x","type":"quantitative","scale":{"domain":[0,1392],"nice":false,"zero":false},"axis":null},"x2":{"field":"x2"},
 "y":{"field":"y","type":"quantitative","scale":{"domain":[0,790],"reverse":true,"nice":false,"zero":false},"axis":null},"y2":{"field":"y2"}}},
{"data":{"name":"stripes"},"mark":{"type":"rule","color":"#8f98cc","strokeWidth":1.2},
 "encoding":{"x":{"datum":0,"type":"quantitative"},"x2":{"datum":9},"y":{"field":"y","type":"quantitative"}}},
{"data":{"name":"marker"},"mark":{"type":"rule","color":"#8a8a8a","strokeWidth":1.5,"strokeDash":[2,1.5]},
 "encoding":{"x":{"field":"x","type":"quantitative"},"y":{"field":"y","type":"quantitative"},"y2":{"field":"y2"}}},
{"data":{"name":"guides"},"mark":{"type":"rule","color":"#444","strokeWidth":2},
 "encoding":{"x":{"field":"x","type":"quantitative"},"x2":{"field":"x2"},"y":{"field":"y","type":"quantitative"},"y2":{"field":"y2"}}},
{"data":{"name":"ticks2"},"mark":{"type":"rule","color":"#555","strokeWidth":1.2},
 "encoding":{"x":{"field":"x","type":"quantitative"},"y":{"datum":179,"type":"quantitative"},"y2":{"datum":182}}},
{"data":{"name":"ticks5"},"transform":[{"filter":"datum.k==='short'"}],"mark":{"type":"rule","color":"#444","strokeWidth":1.5},
 "encoding":{"x":{"field":"x","type":"quantitative"},"y":{"datum":283,"type":"quantitative"},"y2":{"datum":286}}},
{"data":{"name":"ticks5"},"transform":[{"filter":"datum.k==='long'"}],"mark":{"type":"rule","color":"#444","strokeWidth":1.5},
 "encoding":{"x":{"field":"x","type":"quantitative"},"y":{"datum":283,"type":"quantitative"},"y2":{"datum":288}}},
{"data":{"name":"ticks5"},"transform":[{"filter":"datum.k==='major'"}],"mark":{"type":"rule","color":"#444","strokeWidth":1.5},
 "encoding":{"x":{"field":"x","type":"quantitative"},"y":{"datum":283,"type":"quantitative"},"y2":{"datum":292}}},
{"data":{"name":"traces"},"transform":[{"filter":{"not":{"field":"s","oneOf":["1e","1f","3R","5R"]}}}],
 "mark":{"type":"line","color":"#2a2a2a","strokeWidth":1.3,"strokeJoin":"round","strokeCap":"round"},
 "encoding":{"x":{"field":"x","type":"quantitative"},"y":{"field":"y","type":"quantitative"},"detail":{"field":"s"},"order":{"value":null}}},
{"data":{"name":"traces"},"transform":[{"filter":{"field":"s","oneOf":["1e","1f","3R","5R"]}}],
 "mark":{"type":"line","color":"#1a1a1a","strokeWidth":2,"strokeJoin":"round","strokeCap":"round"},
 "encoding":{"x":{"field":"x","type":"quantitative"},"y":{"field":"y","type":"quantitative"},"detail":{"field":"s"},"order":{"value":null}}},
{"data":{"name":"shafts"},"mark":{"type":"rule","color":"#111","strokeWidth":2},
 "encoding":{"x":{"field":"x","type":"quantitative"},"x2":{"field":"x2"},"y":{"field":"y","type":"quantitative"},"y2":{"field":"y2"}}},
{"data":{"name":"heads"},"transform":[{"filter":"datum.k==='big'"}],"mark":{"type":"point","shape":"triangle-down","filled":true,"color":"#111","opacity":1,"size":150},
 "encoding":{"x":{"field":"x","type":"quantitative"},"y":{"field":"y","type":"quantitative"},"angle":{"field":"a","type":"quantitative","scale":null}}},
{"data":{"name":"heads"},"transform":[{"filter":"datum.k==='small'"}],"mark":{"type":"point","shape":"triangle-down","filled":true,"color":"#111","opacity":1,"size":100},
 "encoding":{"x":{"field":"x","type":"quantitative"},"y":{"field":"y","type":"quantitative"},"angle":{"field":"a","type":"quantitative","scale":null}}},
{"data":{"name":"nums"},"mark":{"type":"text","font":"Liberation Sans","fontSize":34,"align":"center","baseline":"alphabetic","color":"#111"},
 "encoding":{"x":{"field":"x","type":"quantitative"},"y":{"field":"y","type":"quantitative"},"text":{"field":"t"}}},
{"data":{"name":"leads"},"mark":{"type":"text","font":"Liberation Sans","fontSize":10,"fontWeight":"bold","align":"right","baseline":"middle","color":"#3a3a3a"},
 "encoding":{"x":{"field":"x","type":"quantitative"},"y":{"field":"y","type":"quantitative"},"text":{"field":"t"}}},
{"data":{"name":"scale10"},"mark":{"type":"text","font":"Liberation Sans","fontSize":6,"fontWeight":"bold","align":"center","baseline":"middle","color":"#555"},
 "encoding":{"x":{"field":"x","type":"quantitative"},"y":{"field":"y","type":"quantitative"},"text":{"field":"t"}}},
{"data":{"name":"notes"},"mark":{"type":"text","font":"DejaVu Sans","fontSize":45,"align":"left","baseline":"alphabetic","color":"#111"},
 "encoding":{"x":{"field":"x","type":"quantitative"},"y":{"field":"y","type":"quantitative"},"text":{"field":"t"}}}
]
}
